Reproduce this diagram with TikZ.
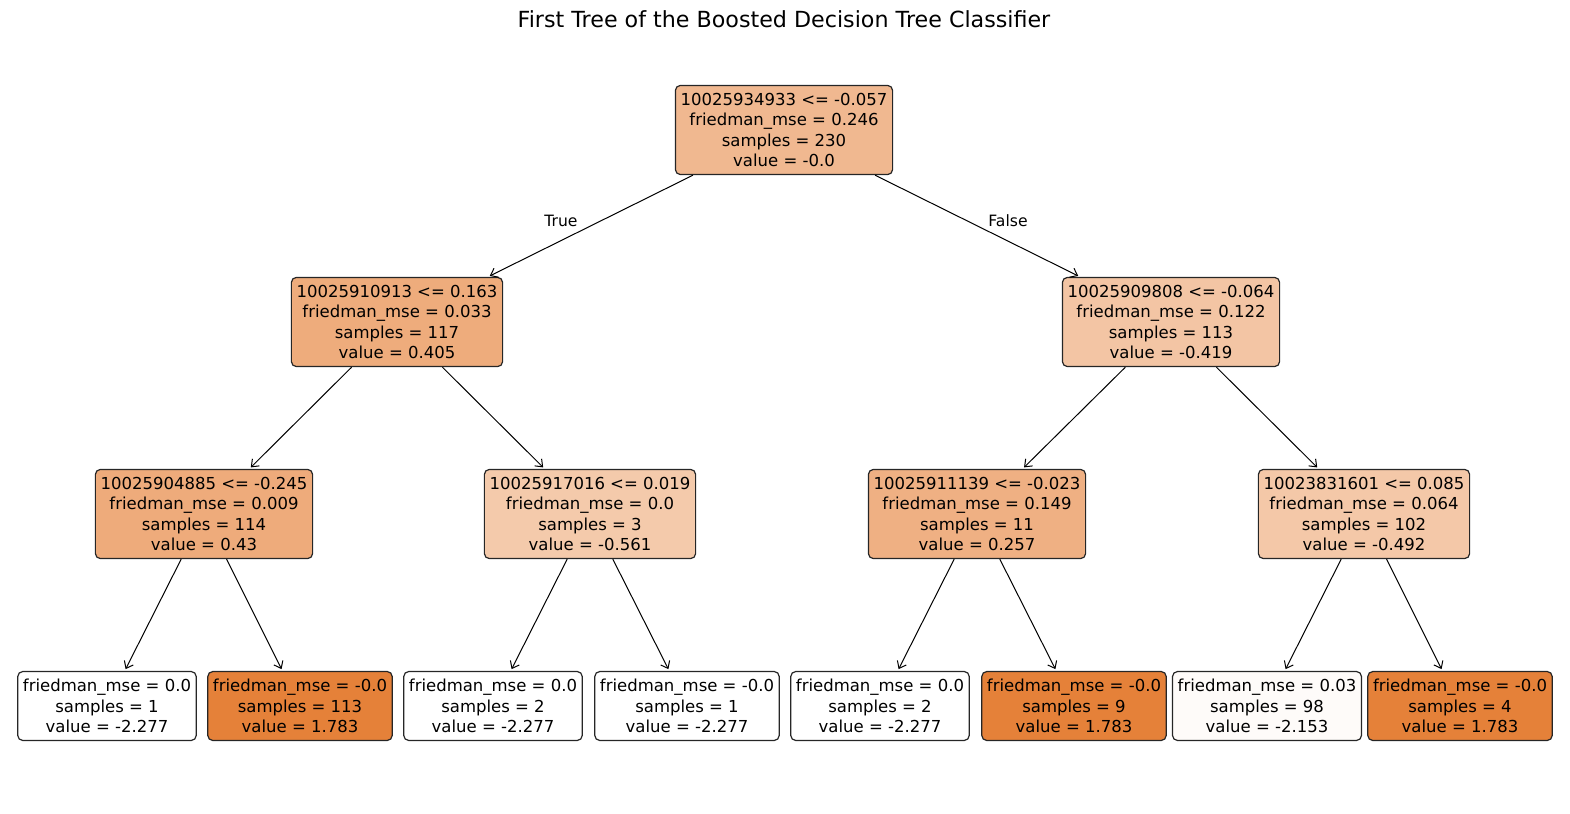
\documentclass[tikz,border=0pt]{standalone}
\usepackage{fontspec}
\setmainfont{DejaVu Sans}
\usetikzlibrary{arrows.meta}
\definecolor{cRoot}{RGB}{240,184,144}
\definecolor{cA}{RGB}{238,172,124}
\definecolor{cB}{RGB}{243,197,164}
\definecolor{cC}{RGB}{238,171,123}
\definecolor{cD}{RGB}{244,202,171}
\definecolor{cE}{RGB}{239,176,131}
\definecolor{cF}{RGB}{244,200,168}
\definecolor{cMax}{RGB}{229,129,57}
\definecolor{cNear}{RGB}{254,251,249}
\tikzset{
  tree/.style={draw=black!85, line width=0.6pt, rounded corners=2.5pt, align=center,
    inner xsep=2.6pt, inner ysep=3.8pt,
    font=\fontsize{8.25pt}{10.25pt}\selectfont},
  edge/.style={line width=0.5pt, -{Straight Barb[length=3.2pt,width=5pt]}, shorten >=1pt, shorten <=0pt},
  elabel/.style={font=\fontsize{7.8pt}{9pt}\selectfont}
}
\begin{document}
\begin{tikzpicture}[x=0.5pt,y=-0.5pt]
\useasboundingbox (0,0) rectangle (1570,814);
\node[font=\fontsize{11.1pt}{13pt}\selectfont] (title) at (784,19) {First Tree of the Boosted Decision Tree Classifier};

\node[tree, fill=cRoot] (root) at (784,130) {10025934933 <= -0.057\\friedman\_mse = 0.246\\samples = 230\\value = -0.0};
\node[tree, fill=cA] (n1l) at (397,322) {10025910913 <= 0.163\\friedman\_mse = 0.033\\samples = 117\\value = 0.405};
\node[tree, fill=cB] (n1r) at (1171,322) {10025909808 <= -0.064\\friedman\_mse = 0.122\\samples = 113\\value = -0.419};

\node[tree, fill=cC] (n2a) at (204,514) {10025904885 <= -0.245\\friedman\_mse = 0.009\\samples = 114\\value = 0.43};
\node[tree, fill=cD] (n2b) at (590,514) {10025917016 <= 0.019\\friedman\_mse = 0.0\\samples = 3\\value = -0.561};
\node[tree, fill=cE] (n2c) at (977,514) {10025911139 <= -0.023\\friedman\_mse = 0.149\\samples = 11\\value = 0.257};
\node[tree, fill=cF] (n2d) at (1364,514) {10023831601 <= 0.085\\friedman\_mse = 0.064\\samples = 102\\value = -0.492};

\node[tree, fill=white] (l1) at (107,706) {friedman\_mse = 0.0\\samples = 1\\value = -2.277};
\node[tree, fill=cMax] (l2) at (300,706) {friedman\_mse = -0.0\\samples = 113\\value = 1.783};
\node[tree, fill=white] (l3) at (493,706) {friedman\_mse = 0.0\\samples = 2\\value = -2.277};
\node[tree, fill=white] (l4) at (687,706) {friedman\_mse = -0.0\\samples = 1\\value = -2.277};
\node[tree, fill=white] (l5) at (880,706) {friedman\_mse = 0.0\\samples = 2\\value = -2.277};
\node[tree, fill=cMax] (l6) at (1074,706) {friedman\_mse = -0.0\\samples = 9\\value = 1.783};
\node[tree, fill=cNear] (l7) at (1267,706) {friedman\_mse = 0.03\\samples = 98\\value = -2.153};
\node[tree, fill=cMax] (l8) at (1460,706) {friedman\_mse = -0.0\\samples = 4\\value = 1.783};

\draw[edge] (root) -- (n1l);
\draw[edge] (root) -- (n1r);
\draw[edge] (n1l) -- (n2a);
\draw[edge] (n1l) -- (n2b);
\draw[edge] (n1r) -- (n2c);
\draw[edge] (n1r) -- (n2d);
\draw[edge] (n2a) -- (l1);
\draw[edge] (n2a) -- (l2);
\draw[edge] (n2b) -- (l3);
\draw[edge] (n2b) -- (l4);
\draw[edge] (n2c) -- (l5);
\draw[edge] (n2c) -- (l6);
\draw[edge] (n2d) -- (l7);
\draw[edge] (n2d) -- (l8);

\node[elabel] (ltrue) at (561,221) {True};
\node[elabel] (lfalse) at (1008,221) {False};
\end{tikzpicture}
\end{document}
